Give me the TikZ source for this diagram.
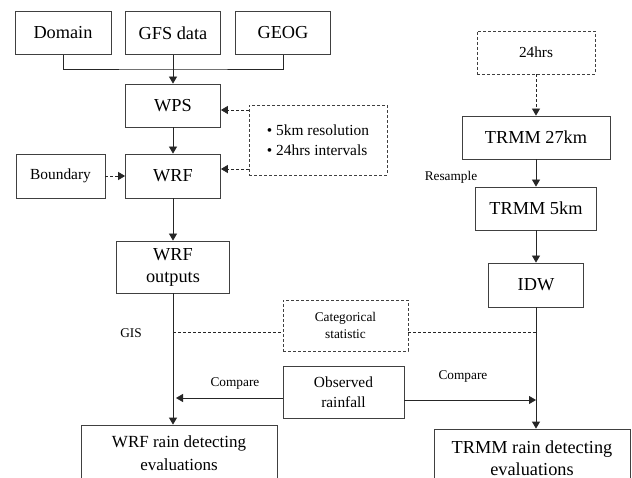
\documentclass[tikz,border=0pt]{standalone}
\usepackage{fontspec}
\setmainfont{Liberation Serif}
\usepackage{tikz}
\usetikzlibrary{arrows.meta,positioning}

\begin{document}
\begin{tikzpicture}[x=1pt,y=-1pt]
			\tikzstyle{Box}		= [draw=black!75, line width=0.8pt, minimum height=43pt, inner sep=0pt, align=center, font=\fontsize{18.3}{22}\selectfont]
			\tikzstyle{DBox}	= [Box, dash pattern=on 3pt off 2pt]
			\tikzstyle{Small}	= [font=\fontsize{13.3}{17}\selectfont]
			\tikzstyle{Mid}		= [font=\fontsize{15.4}{20}\selectfont]
			\tikzstyle{Link}	= [draw=black!85, line width=0.8pt]
			\tikzstyle{Arr}		= [Link, -{Triangle[length=7pt,width=8pt]}]
			\tikzstyle{DLink}	= [Link, dash pattern=on 3pt off 2pt]
			\tikzstyle{DArr}	= [Arr, dash pattern=on 3pt off 2pt]

			\clip (0,0) rectangle (632,478);
			\fill [white] (0,0) rectangle (632,478);

			% WRF side
			\node (dom) at (63,33) [Box][minimum width=96pt] {Domain};
			\node (gfs) at (173,33) [Box][minimum width=95pt] {GFS data};
			\node (geog) at (283,33) [Box][minimum width=95pt] {GEOG};
			\node (wps) at (173,105.5) [Box][minimum width=95pt] {WPS};
			\node (wrf) at (173,176) [Box][minimum width=95pt, minimum height=44pt] {WRF};
			\node (bnd) at (60.5,176) [Box][Mid, minimum width=89pt, minimum height=44pt] {Boundary};
			\node (opt) at (318,140) [DBox][Mid, minimum width=138pt, minimum height=70pt, align=left] {\textbullet{} 5km resolution\\\textbullet{} 24hrs intervals};
			\node (wout) at (173,267) [Box][minimum width=113pt, minimum height=52pt] {WRF\\outputs};
			\node (wrain) at (179,453.5) [Box][minimum width=196pt, minimum height=57pt, font=\fontsize{17}{23}\selectfont] {WRF rain detecting\\evaluations};

			% middle
			\node (cat) at (345.5,325.5) [DBox][Small, minimum width=125pt, minimum height=51pt] {Categorical\\statistic};
			\node (obs) at (343.5,392) [Box][Mid, minimum width=121pt, minimum height=52pt] {Observed\\rainfall};

			% TRMM side
			\node (hrs) at (536,52.5) [DBox][font=\fontsize{15.3}{18}\selectfont, minimum width=118pt] {24hrs};
			\node (t27) at (536,137.5) [Box][minimum width=148pt] {TRMM 27km};
			\node (t5) at (536,208.5) [Box][minimum width=121pt] {TRMM 5km};
			\node (idw) at (536,285) [Box][minimum width=95pt, minimum height=44pt] {IDW};
			\node (train) at (532,458) [Box][minimum width=196pt, minimum height=58pt] {TRMM rain detecting\\evaluations};

			% labels
			\node (gis) at (131,333) [Small] {GIS};
			\node (res) at (451,177) [Small] {Resample};
			\node (cmpl) at (235,384) [Small] {Compare};
			\node (cmpr) at (463,377) [Small] {Compare};

			\coordinate (bus) at (173,69);
			\coordinate (o1) at (249,110);
			\coordinate (o2) at (249,169);
			\coordinate (g1) at (173,332);
			\coordinate (g2) at (536,332);
			\coordinate (c1) at (176,398);
			\coordinate (c2) at (536,400);

			\draw [Link] (dom.south) |- (bus) -| (geog.south);
			\draw [Arr] (gfs.south) to (wps.north);
			\draw [Arr] (wps.south) to (wrf.north);
			\draw [DArr] (bnd.east) to (wrf.west);
			\draw [DArr] (o1) to (o1 -| wps.east);
			\draw [DArr] (o2) to (o2 -| wrf.east);
			\draw [Arr] (wrf.south) to (wout.north);
			\draw [Arr] (wout.south) to (wout.south |- wrain.north);

			\draw [DLink] (g1) to (g1 -| cat.west);
			\draw [DLink] (g1 -| cat.east) to (g2);
			\draw [Arr] (obs.west |- c1) to (c1);
			\draw [Arr] (obs.east |- c2) to (c2);

			\draw [DArr] (hrs.south) to (t27.north);
			\draw [Arr] (t27.south) to (t5.north);
			\draw [Arr] (t5.south) to (idw.north);
			\draw [Arr] (idw.south) to (idw.south |- train.north);
		\end{tikzpicture}
\end{document}
